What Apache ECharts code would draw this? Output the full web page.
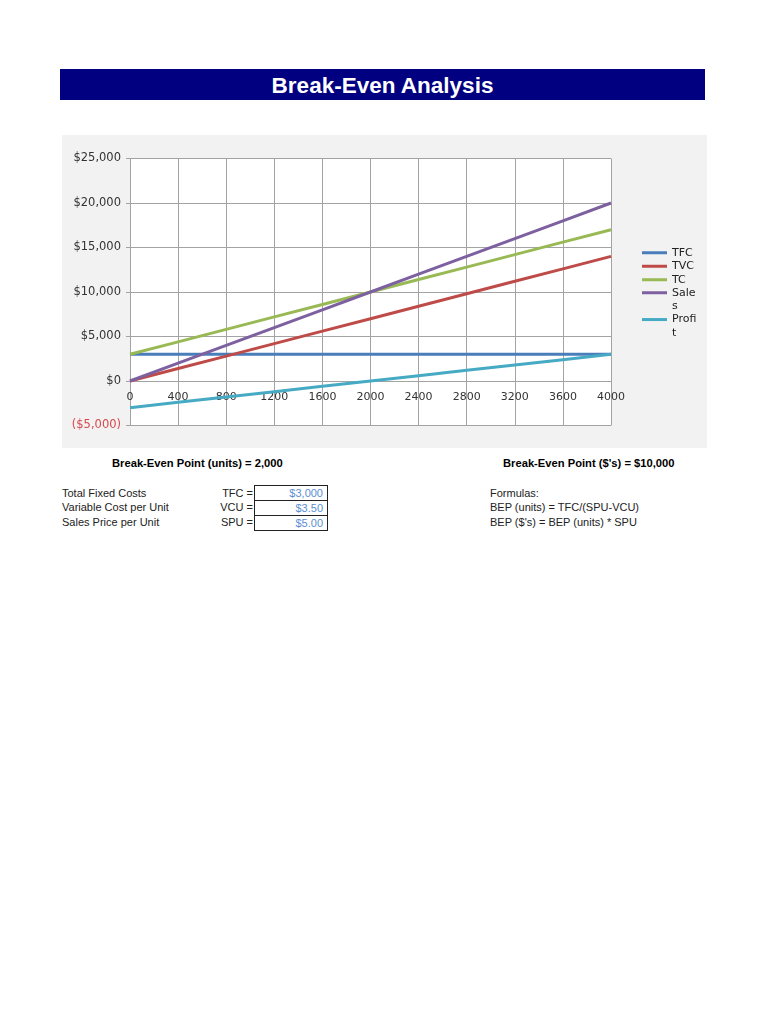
<!DOCTYPE html>
<html>
<head>
<meta charset="utf-8">
<script src="https://cdn.jsdelivr.net/npm/echarts@6/dist/echarts.min.js"></script>
<style>
  html, body { margin: 0; padding: 0; background: #fff; }
  body { width: 770px; height: 1024px; position: relative; font-family: "Liberation Sans", Arial, sans-serif; }
  .abs { position: absolute; white-space: nowrap; }
  #title { left: 60px; top: 69px; width: 645px; height: 31px; background: #000080; color: #fff;
           font-weight: bold; font-size: 22.5px; line-height: 33px; text-align: center; }
  #chart { left: 62px; top: 135px; width: 645px; height: 313px; }
  .bold { font-weight: bold; font-size: 11.2px; color: #000; }
  .txt { font-size: 11px; color: #222; line-height: 14.4px; }
  .box { left: 254px; width: 72px; height: 14px; border: 1px solid #222; font-size: 11px; color: #5b8fd4;
         text-align: right; line-height: 14px; box-sizing: content-box; }
  .box span { padding-right: 4px; }
</style>
</head>
<body>
<div id="title" class="abs">Break-Even Analysis</div>
<div id="chart" class="abs"></div>

<div class="abs bold" style="left:112px; top:457px;">Break-Even Point (units) = 2,000</div>
<div class="abs bold" style="left:503px; top:457px;">Break-Even Point ($'s) = $10,000</div>

<div class="abs txt" style="left:62px; top:486px;">Total Fixed Costs<br>Variable Cost per Unit<br>Sales Price per Unit</div>
<div class="abs txt" style="left:200px; top:486px; width:53px; text-align:right;">TFC =<br>VCU =<br>SPU =</div>
<div class="abs box" style="top:485px;"><span>$3,000</span></div>
<div class="abs box" style="top:500px;"><span>$3.50</span></div>
<div class="abs box" style="top:515px;"><span>$5.00</span></div>
<div class="abs txt" style="left:490px; top:486px;">Formulas:<br>BEP (units) = TFC/(SPU-VCU)<br>BEP ($'s) = BEP (units) * SPU</div>

<script>
// ---- data ----
const units  = [0, 400, 800, 1200, 1600, 2000, 2400, 2800, 3200, 3600, 4000];
const tfc    = [3000, 3000, 3000, 3000, 3000, 3000, 3000, 3000, 3000, 3000, 3000];
const tvc    = [0, 1400, 2800, 4200, 5600, 7000, 8400, 9800, 11200, 12600, 14000];
const tc     = [3000, 4400, 5800, 7200, 8600, 10000, 11400, 12800, 14200, 15600, 17000];
const sales  = [0, 2000, 4000, 6000, 8000, 10000, 12000, 14000, 16000, 18000, 20000];
const profit = [-3000, -2400, -1800, -1200, -600, 0, 600, 1200, 1800, 2400, 3000];
const seriesNames = ['TFC', 'TVC', 'TC', 'Sales', 'Profit'];
const legendLabels = { Sales: ' \nSale\ns', Profit: ' \nProfi\nt' };
const seriesColors = ['#4a7ebb', '#be4b48', '#98b954', '#7d60a0', '#46aac5'];
const seriesValues = [tfc, tvc, tc, sales, profit];

const chart = echarts.init(document.getElementById('chart'), null, { renderer: 'canvas' });
const gridColor = '#a3a3a3';
const legendText = { fontFamily: 'DejaVu Sans', fontSize: 11, color: '#222', lineHeight: 13.5 };

function legendAt(names, top) {
  return {
    data: names, orient: 'vertical', left: 580, top: top, padding: 0, itemGap: 0,
    icon: 'rect', itemWidth: 25, itemHeight: 3,
    formatter: function (n) { return legendLabels[n] || n; },
    textStyle: legendText
  };
}

const option = {
  backgroundColor: '#f2f2f2',
  animation: false,
  grid: { left: 68, top: 23.5, width: 481, height: 267, show: true, backgroundColor: '#fff', borderWidth: 0 },
  xAxis: {
    type: 'value', min: 0, max: 4000, interval: 400,
    offset: -44.5,
    axisLine: { onZero: false, lineStyle: { color: gridColor, width: 1 } },
    axisTick: { show: false },
    splitLine: { show: true, lineStyle: { color: gridColor, width: 1 } },
    axisLabel: { margin: 11, fontFamily: 'DejaVu Sans', fontSize: 11, color: '#333',
                 formatter: function (v) { return String(v); } }
  },
  yAxis: {
    type: 'value', min: -5000, max: 25000, interval: 5000,
    axisLine: { show: true, lineStyle: { color: gridColor, width: 1 } },
    axisTick: { show: true, length: 4, lineStyle: { color: gridColor } },
    splitLine: { show: true, lineStyle: { color: gridColor, width: 1 } },
    axisLabel: {
      margin: 9, fontFamily: 'DejaVu Sans', fontSize: 11.5, color: '#333',
      formatter: function (v) {
        const s = '$' + Math.abs(v).toLocaleString('en-US');
        return v < 0 ? '{neg|(' + s + ')}' : s;
      },
      rich: { neg: { color: '#d9484c', fontFamily: 'DejaVu Sans', fontSize: 11.5 } }
    }
  },
  legend: [
    legendAt(['TFC', 'TVC', 'TC'], 111),
    legendAt(['Sales'], 137.5),
    legendAt(['Profit'], 164.3)
  ],
  series: seriesNames.map(function (name, i) {
    return {
      name: name, type: 'line', showSymbol: false, symbol: 'none',
      color: seriesColors[i],
      lineStyle: { width: 3, color: seriesColors[i] },
      data: units.map(function (u, j) { return [u, seriesValues[i][j]]; })
    };
  })
};
chart.setOption(option);
</script>
</body>
</html>
